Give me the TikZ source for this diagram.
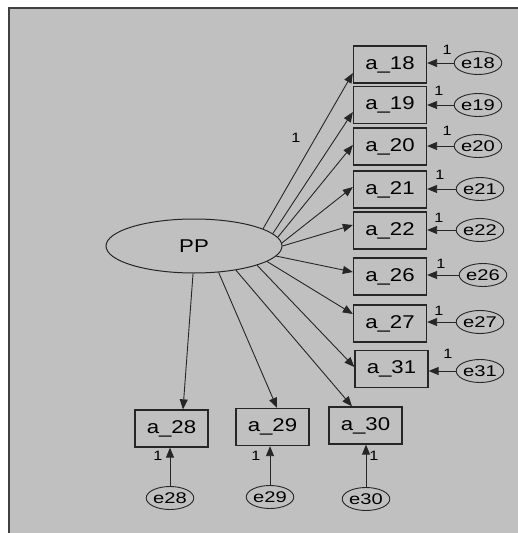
\documentclass[tikz,border=0pt]{standalone}
\usepackage{fontspec}
\setmainfont{Liberation Sans}
\newfontfamily\widesans[FakeStretch=1.2]{Liberation Sans}
\newfontfamily\widersans[FakeStretch=1.3]{Liberation Sans}
\usetikzlibrary{arrows.meta,shapes.geometric}
\definecolor{bggrey}{HTML}{C0C0C0}
\definecolor{framegrey}{HTML}{404040}
\begin{document}
\begin{tikzpicture}[x=1pt,y=-1pt,
  obs/.style={draw=black!85,line width=1.3pt,minimum width=73pt,minimum height=37pt,inner sep=0pt,font=\widesans\fontsize{18.5}{18.5}\selectfont},
  lat/.style={ellipse,draw=black!85,line width=1pt,minimum width=176pt,minimum height=54pt,inner sep=0pt,font=\widesans\fontsize{18.5}{18.5}\selectfont},
  err/.style={ellipse,draw=black!85,line width=0.9pt,minimum width=34pt,minimum height=23pt,inner sep=0pt,font=\widersans\fontsize{15.5}{15.5}\selectfont},
  lab/.style={inner sep=0pt,font=\widesans\fontsize{13.5}{13.5}\selectfont},
  arr/.style={draw=black!85,line width=0.9pt,-{Triangle[length=10pt,width=8pt]}}]
\useasboundingbox (0,0) rectangle (518,533);
\fill[white] (0,0) rectangle (518,533);
\fill[bggrey] (8,7) rectangle (518,533);
\draw[framegrey,line width=2pt] (9,533) -- (9,8) -- (518,8);

\node[lat] (PP) at (194,246) {PP};

\node[obs] (a18) at (390,64.5) {a\_18};
\node[obs] (a19) at (390,105) {a\_19};
\node[obs] (a20) at (390,146.5) {a\_20};
\node[obs] (a21) at (390,189.5) {a\_21};
\node[obs] (a22) at (390,230.5) {a\_22};
\node[obs] (a26) at (390,276.5) {a\_26};
\node[obs] (a27) at (390,323.5) {a\_27};
\node[obs] (a31) at (391.5,369) {a\_31};
\node[obs] (a28) at (171.5,428.5) {a\_28};
\node[obs] (a29) at (272.5,427) {a\_29};
\node[obs] (a30) at (365.5,425.5) {a\_30};

\node[err] (e18) at (478,63) {e18};
\node[err] (e19) at (478,105) {e19};
\node[err] (e20) at (478,146) {e20};
\node[err] (e21) at (480,189) {e21};
\node[err] (e22) at (480,230) {e22};
\node[err] (e26) at (483,275) {e26};
\node[err] (e27) at (480,322) {e27};
\node[err] (e31) at (480,371) {e31};
\node[err] (e28) at (170,498) {e28};
\node[err] (e29) at (270,497) {e29};
\node[err] (e30) at (366,499) {e30};

% loadings
\draw[arr] (PP.14.8) -- ([shift={(0,8.5)}]a18.west);
\draw[arr] (PP.9.5) -- ([shift={(0,7)}]a19.west);
\draw[arr] (PP.6.2) -- ([shift={(0,-1.5)}]a20.west);
\draw[arr] (PP.2.6) -- ([shift={(0,-2.5)}]a21.west);
\draw[arr] (PP.-0.5) -- ([shift={(0,-5.5)}]a22.west);
\draw[arr] (PP.-7.5) -- ([shift={(0,-4.5)}]a26.west);
\draw[arr] (PP.-12.4) -- ([shift={(0,-9.5)}]a27.west);
\draw[arr] (PP.-17.6) -- ([shift={(0,-2)}]a31.west);
\draw[arr] (PP.-30.6) -- ([shift={(-13.5,0)}]a30.north);
\draw[arr] (PP.-47) -- ([shift={(4.5,0)}]a29.north);
\draw[arr] (PP.-92) -- ([shift={(11.5,0)}]a28.north);
\node[lab] (l0) at (296,138) {1};

% error paths
\draw[arr] (e18) -- (e18 -| a18.east);
\draw[arr] (e19) -- (e19 -| a19.east);
\draw[arr] (e20) -- (e20 -| a20.east);
\draw[arr] (e21) -- (e21 -| a21.east);
\draw[arr] (e22) -- (e22 -| a22.east);
\draw[arr] (e26) -- (e26 -| a26.east);
\draw[arr] (e27) -- (e27 -| a27.east);
\draw[arr] (e31) -- (e31 -| a31.east);
\draw[arr] (e28) -- (e28 |- a28.south);
\draw[arr] (e29) -- (e29 |- a29.south);
\draw[arr] (e30) -- (e30 |- a30.south);

\node[lab] (l18) at (447,50) {1};
\node[lab] (l19) at (439,91) {1};
\node[lab] (l20) at (447,131) {1};
\node[lab] (l21) at (440,175) {1};
\node[lab] (l22) at (439,218) {1};
\node[lab] (l26) at (441,264) {1};
\node[lab] (l27) at (439,311) {1};
\node[lab] (l31) at (448,354) {1};
\node[lab] (l28) at (158,456) {1};
\node[lab] (l29) at (256,456) {1};
\node[lab] (l30) at (374,456) {1};
\end{tikzpicture}
\end{document}
